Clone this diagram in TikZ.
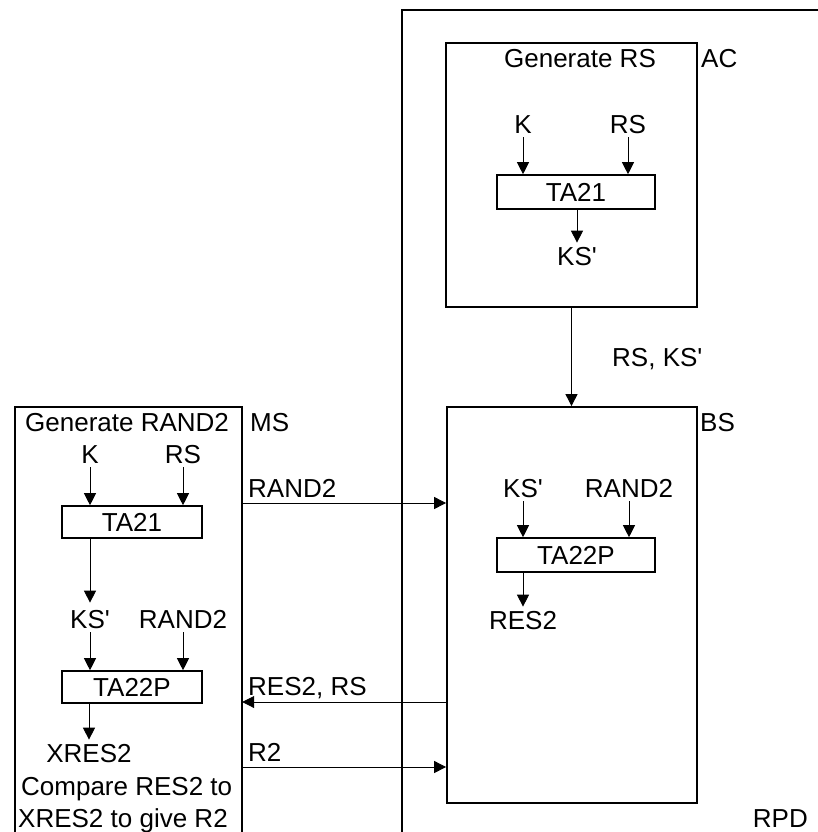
\documentclass[tikz,border=0pt]{standalone}
\usepackage{fontspec}
\setmainfont{Liberation Sans}[Ligatures=TeXOff]
\usetikzlibrary{arrows.meta}
\newcommand{\apos}{'}
\begin{document}
\begin{tikzpicture}[x=1pt,y=-1pt,
  lbl/.style={inner sep=4pt, anchor=base, font=\fontsize{26}{31}\selectfont},
  lblw/.style={lbl, anchor=base west},
  fnbox/.style={draw, line width=1.6pt, inner sep=0pt, minimum width=158pt, minimum height=34pt, font=\fontsize{26}{31}\selectfont},
  bigbox/.style={draw, line width=1.8pt, inner sep=0pt},
  arr/.style={line width=0.9pt, -{Triangle[length=12pt,width=12pt]}},
  rpdline/.style={line width=2pt}]
\useasboundingbox (0,0) rectangle (818,832);

% RPD frame
\coordinate (rpdA) at (402,840);
\coordinate (rpdB) at (402,10);
\coordinate (rpdC) at (830,10);
\draw[rpdline] (rpdA) -- (rpdB) -- (rpdC);
\node[lbl, anchor=base east] (rpd) at (812,827) {RPD};

% AC box
\node[bigbox, minimum width=251pt, minimum height=264pt] (ac) at (571.5,175) {};
\node[lbl] (genrs) at (580,68) {Generate RS};
\node[lblw] (aclbl) at (697,68) {AC};
\node[lbl] (ack) at (523,133) {K};
\node[lbl] (acrs) at (628,133) {RS};
\node[fnbox] (acta) at (576,192) {TA21};
\node[lbl] (acks) at (577,265) {KS\apos};
\draw[arr] (ack.south) -- (ack.south |- acta.north);
\draw[arr] (acrs.south) -- (acrs.south |- acta.north);
\draw[arr] (acks.north |- acta.south) -- (acks.north);

% AC -> BS
\node[bigbox, minimum width=250pt, minimum height=396pt] (bs) at (572,605) {};
\draw[arr] (ac.south) -- (ac.south |- bs.north);
\node[lblw] (rsks) at (608,366) {RS, KS\apos};

% BS contents
\node[lblw] (bslbl) at (696,431) {BS};
\node[lbl] (bsks) at (523,497) {KS\apos};
\node[lbl] (bsrand) at (629,497) {RAND2};
\node[fnbox] (bsta) at (576,555) {TA22P};
\node[lbl] (bsres) at (523,629) {RES2};
\draw[arr] (bsks.south) -- (bsks.south |- bsta.north);
\draw[arr] (bsrand.south) -- (bsrand.south |- bsta.north);
\draw[arr] (bsres.north |- bsta.south) -- (bsres.north);

% MS box (open at the bottom)
\node[inner sep=0pt, minimum width=227pt, minimum height=433pt] (ms) at (128.5,623.5) {};
\draw[line width=1.8pt] (ms.south west) -- (ms.north west) -- (ms.north east) -- (ms.south east);
\node[lblw] (genrand) at (21,431) {Generate RAND2};
\node[lblw] (mslbl) at (246,431) {MS};
\node[lbl] (msk) at (90,463) {K};
\node[lbl] (msrs) at (183,463) {RS};
\node[fnbox, minimum width=140pt, minimum height=32pt] (msta) at (132,522) {TA21};
\node[lbl] (msks) at (90,628) {KS\apos};
\node[lbl] (msrand) at (183,628) {RAND2};
\node[fnbox, minimum width=140pt, minimum height=32pt] (mstb) at (132,687) {TA22P};
\node[lbl] (msx) at (89,762) {XRES2};
\node[lblw] (cmp1) at (17,795) {Compare RES2 to};
\node[lblw] (cmp2) at (14,827) {XRES2 to give R2};
\draw[arr] (msk.south) -- (msk.south |- msta.north);
\draw[arr] (msrs.south) -- (msrs.south |- msta.north);
\draw[arr, shorten >=3pt] (msks.north |- msta.south) -- (msks.north);
\draw[arr] (msks.south) -- (msks.south |- mstb.north);
\draw[arr] (msrand.south) -- (msrand.south |- mstb.north);
\draw[arr] (msx.north |- mstb.south) -- (msx.north);

% messages between MS and BS
\node[lblw] (mrand) at (244,497) {RAND2};
\node[lblw] (mres) at (244,695) {RES2, RS};
\node[lblw] (mr2) at (244,761) {R2};
\draw[arr] (ms.east |- 0,503) -- (bs.west |- 0,503);
\draw[arr] (bs.west |- 0,702) -- (ms.east |- 0,702);
\draw[arr] (ms.east |- 0,767) -- (bs.west |- 0,767);
\end{tikzpicture}
\end{document}
